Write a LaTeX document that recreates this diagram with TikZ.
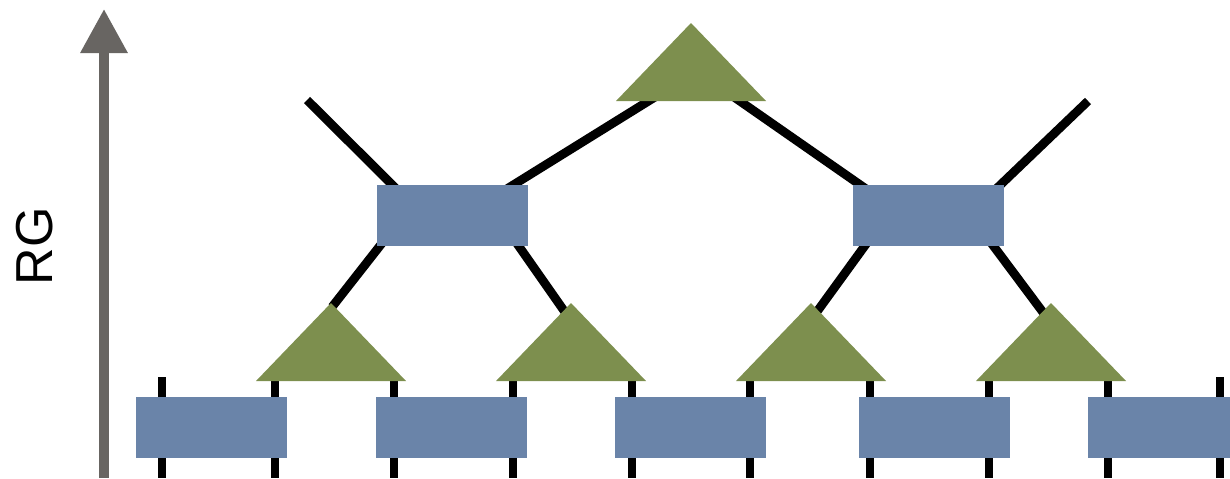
\documentclass[tikz,border=0pt]{standalone}
\usepackage{fontspec}
\setmainfont{Liberation Sans}
\usetikzlibrary{arrows.meta}
\definecolor{blockblue}{HTML}{6A84A9}
\definecolor{tensgreen}{HTML}{7D8F4E}
\definecolor{axisgrey}{HTML}{686562}
\pgfdeclarelayer{legs}
\pgfsetlayers{legs,main}
\begin{document}
\begin{tikzpicture}[x=0.5pt,y=-0.5pt,
  block/.style={fill=blockblue, inner sep=0pt, outer sep=0pt,
                minimum width=75.5pt, minimum height=30.5pt},
  leg/.style={line width=4.4pt, black, line cap=butt},
  stub/.style={line width=4pt, black},
  axis/.style={axisgrey, line width=4.75pt,
               -{Triangle[width=22.5pt,length=22pt]}},
  pics/isotri/.style={code={
    \fill[tensgreen] (-75,0) -- (0,-78) -- (75,0) -- cycle;
    \coordinate (-apex) at (0,-78);
  }}]
\useasboundingbox (0,0) rectangle (1230,478);
\clip (0,0) rectangle (1230,478);

% RG axis
\coordinate (axbase) at (104,478);
\coordinate (axtip) at (104,9);
\draw[axis] (axbase) -- (axtip);
\node[rotate=90, font=\fontsize{26}{26}\selectfont, inner sep=0pt] (rg) at (35,246) {RG};

% physical legs of the lattice sites
\begin{pgfonlayer}{legs}
\foreach \x [count=\i] in {162,275,394,513,632,750,870,989,1108,1220} {
  \coordinate (up\i) at (\x,377);
  \coordinate (dn\i) at (\x,478);
  \draw[stub] (up\i) -- (dn\i);
}
\end{pgfonlayer}

% coarse-grained layer
\node[block] (m1) at (452,215.5) {};
\node[block] (m2) at (928.5,215.5) {};

% isometries
\pic (top) at (691,101) {isotri};
\pic (t1) at (331,381) {isotri};
\pic (t2) at (571,381) {isotri};
\pic (t3) at (811,381) {isotri};
\pic (t4) at (1051,381) {isotri};

% fine layer
\node[block] (b1) at (211.5,427.5) {};
\node[block] (b2) at (451.5,427.5) {};
\node[block] (b3) at (690.5,427.5) {};
\node[block] (b4) at (934,427.5) {};
\node[block] (b5) at (1163.5,427.5) {};

% bonds, drawn underneath the tensors
\coordinate (e1) at (307,100);
\coordinate (e2) at (1088,101);
\coordinate (tl) at (655,97);
\coordinate (tr) at (734,97);
\begin{pgfonlayer}{legs}
\draw[leg] (e1) -- ([shift={(22,6)}]m1.north west);
\draw[leg] ([shift={(127,6)}]m1.north west) -- (tl);
\draw[leg] ([shift={(16,6)}]m2.north west) -- (tr);
\draw[leg] (e2) -- ([shift={(-10,6)}]m2.north east);
\draw[leg] ([shift={(8,-6)}]m1.south west) -- ([shift={(1,4)}]t1-apex);
\draw[leg] ([shift={(-13,-6)}]m1.south east) -- ([shift={(-4,12)}]t2-apex);
\draw[leg] ([shift={(16,-6)}]m2.south west) -- ([shift={(5,10)}]t3-apex);
\draw[leg] ([shift={(-15,-6)}]m2.south east) -- ([shift={(-6,12)}]t4-apex);
\end{pgfonlayer}
\end{tikzpicture}
\end{document}
